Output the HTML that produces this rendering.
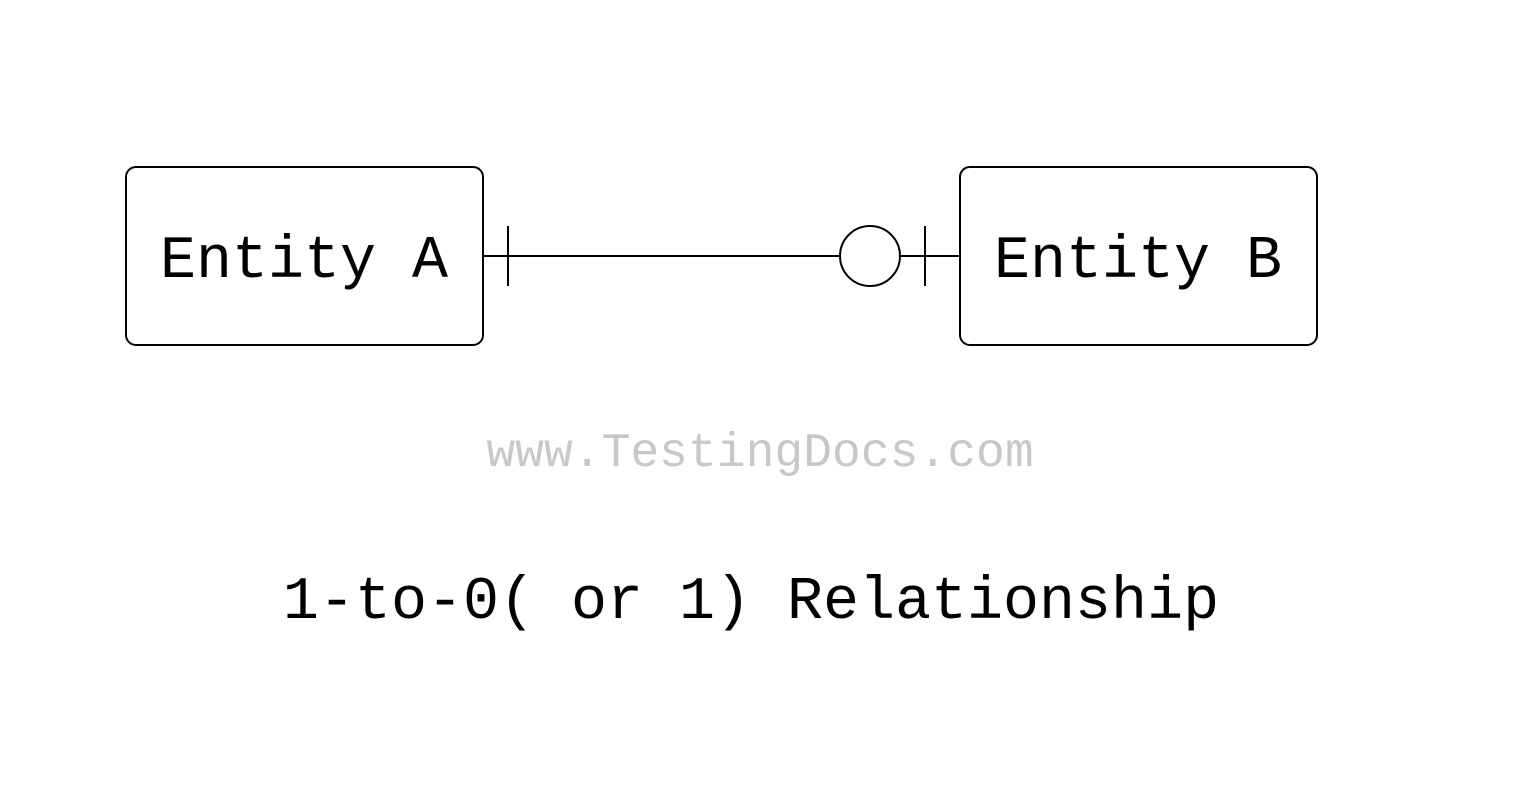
<!DOCTYPE html>
<html><head><meta charset="utf-8"><style>
html,body{margin:0;padding:0;background:#fff;}
body{width:1536px;height:807px;overflow:hidden;}
</style></head><body>
<svg width="1536" height="807" viewBox="0 0 1536 807" xmlns="http://www.w3.org/2000/svg">
<rect width="1536" height="807" fill="#fff"/>
<rect x="126" y="167" width="357" height="178" rx="10" fill="#fff" stroke="#000" stroke-width="2"/>
<rect x="960" y="167" width="357" height="178" rx="10" fill="#fff" stroke="#000" stroke-width="2"/>
<line x1="483" y1="256" x2="840" y2="256" stroke="#000" stroke-width="2"/>
<line x1="900" y1="256" x2="960" y2="256" stroke="#000" stroke-width="2"/>
<line x1="508" y1="226" x2="508" y2="286" stroke="#000" stroke-width="2"/>
<line x1="925" y1="226" x2="925" y2="286" stroke="#000" stroke-width="2"/>
<circle cx="870" cy="256" r="30" fill="#fff" stroke="#000" stroke-width="2"/>
<g font-family="Liberation Mono, monospace">
<text x="304" y="277" font-size="60" text-anchor="middle" fill="#000">Entity A</text>
<text x="1138" y="277" font-size="60" text-anchor="middle" fill="#000">Entity B</text>
<text x="760" y="466" font-size="48" text-anchor="middle" fill="#c8c8c8">www.TestingDocs.com</text>
<text x="751" y="618" font-size="60" text-anchor="middle" fill="#000">1-to-0( or 1) Relationship</text>
</g>
</svg>
</body></html>
